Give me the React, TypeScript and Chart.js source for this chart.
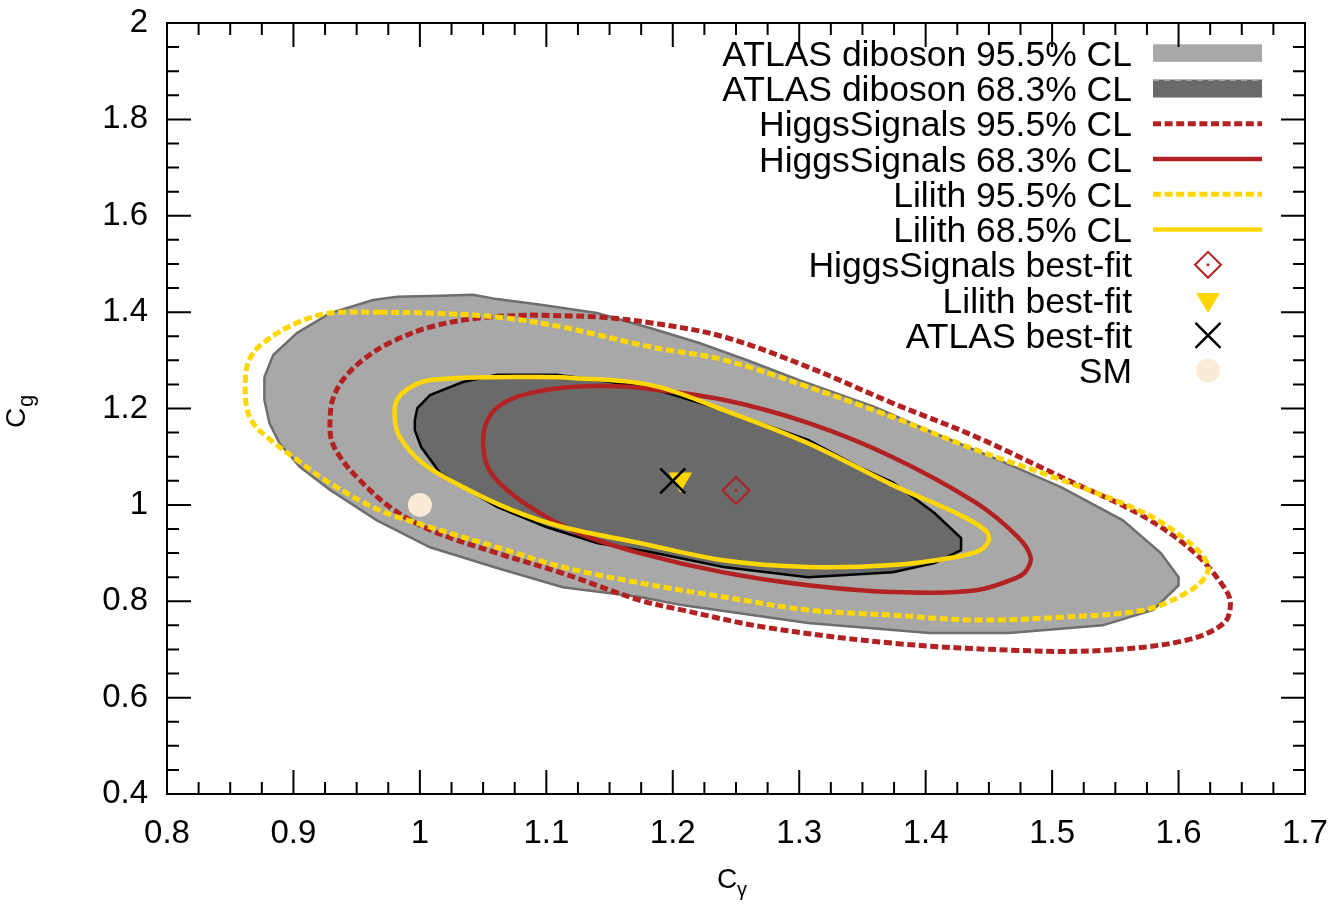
import React, { useEffect, useRef } from "react";
import { Chart, registerables } from "chart.js";

Chart.register(...registerables);

const FONT = '"Liberation Sans", Arial, Helvetica, sans-serif';

// Axis tick values
const xTicks = [0.8, 0.9, 1.0, 1.1, 1.2, 1.3, 1.4, 1.5, 1.6, 1.7];
const yTicks = [0.4, 0.6, 0.8, 1.0, 1.2, 1.4, 1.6, 1.8, 2.0];

// Contours as [C_gamma, C_g] pairs
const atlas95: [number, number][] = [
  [0.877, 1.265], [0.884, 1.311], [0.903, 1.357], [0.929, 1.398], [0.963, 1.425],
  [0.982, 1.432], [1.016, 1.434], [1.042, 1.436], [1.061, 1.427], [1.097, 1.415],
  [1.140, 1.398], [1.182, 1.367], [1.221, 1.336], [1.260, 1.299], [1.300, 1.259],
  [1.360, 1.203], [1.407, 1.149], [1.458, 1.093], [1.507, 1.037], [1.556, 0.968],
  [1.586, 0.900], [1.600, 0.850], [1.600, 0.833], [1.580, 0.782], [1.540, 0.750],
  [1.466, 0.734], [1.403, 0.734], [1.307, 0.755], [1.207, 0.792], [1.174, 0.809],
  [1.113, 0.829], [1.061, 0.869], [1.008, 0.912], [0.966, 0.968], [0.929, 1.031],
  [0.905, 1.079], [0.889, 1.128], [0.881, 1.170], [0.877, 1.218],
];

const atlas68: [number, number][] = [
  [0.996, 1.176], [0.998, 1.201], [1.008, 1.228], [1.034, 1.255], [1.061, 1.270],
  [1.108, 1.270], [1.140, 1.259], [1.182, 1.243], [1.240, 1.197], [1.307, 1.135],
  [1.347, 1.079], [1.374, 1.047], [1.407, 0.983], [1.428, 0.931], [1.428, 0.906],
  [1.407, 0.879], [1.374, 0.860], [1.307, 0.850], [1.240, 0.871], [1.182, 0.902],
  [1.140, 0.921], [1.100, 0.954], [1.061, 0.996], [1.034, 1.037], [1.016, 1.066],
  [1.001, 1.120], [0.996, 1.155],
];

const hs95: [number, number][] = [
  [1.087, 1.394], [1.140, 1.390], [1.182, 1.378],
  [1.240, 1.349], [1.307, 1.286], [1.374, 1.211], [1.440, 1.141], [1.507, 1.058],
  [1.573, 0.975], [1.613, 0.900], [1.636, 0.829], [1.641, 0.796], [1.636, 0.755],
  [1.606, 0.719], [1.540, 0.698], [1.473, 0.698], [1.374, 0.713], [1.273, 0.746],
  [1.207, 0.782], [1.174, 0.802], [1.113, 0.858], [1.061, 0.900], [1.008, 0.948],
  [0.976, 0.996], [0.950, 1.058], [0.937, 1.099], [0.930, 1.135],
  [0.929, 1.176], [0.931, 1.218], [0.939, 1.259], [0.955, 1.301], [0.976, 1.336],
  [1.008, 1.369], [1.047, 1.388],
];

const hs68: [number, number][] = [
  [1.142, 1.247], [1.174, 1.243], [1.240, 1.218], [1.307, 1.170],
  [1.374, 1.099], [1.440, 1.004], [1.473, 0.933], [1.483, 0.892], [1.480, 0.865],
  [1.473, 0.850], [1.440, 0.823], [1.374, 0.819], [1.307, 0.833], [1.240, 0.860],
  [1.174, 0.900], [1.126, 0.941], [1.087, 0.996], [1.063, 1.045], [1.053, 1.083],
  [1.050, 1.128], [1.052, 1.166], [1.059, 1.197], [1.071, 1.218], [1.087, 1.232],
  [1.113, 1.243],
];

const lilith95: [number, number][] = [
  [0.968, 1.400], [1.008, 1.398], [1.061, 1.390], [1.113, 1.369], [1.182, 1.328],
  [1.240, 1.301], [1.307, 1.245], [1.374, 1.182], [1.440, 1.114], [1.507, 1.052],
  [1.573, 0.983], [1.606, 0.927], [1.623, 0.879], [1.621, 0.850], [1.606, 0.817],
  [1.573, 0.782], [1.507, 0.767], [1.440, 0.761], [1.374, 0.771], [1.307, 0.782],
  [1.240, 0.809], [1.174, 0.838], [1.113, 0.871], [1.061, 0.912], [1.008, 0.954],
  [0.968, 0.989], [0.929, 1.045], [0.903, 1.093], [0.879, 1.141], [0.868, 1.170],
  [0.863, 1.203], [0.862, 1.259], [0.865, 1.301], [0.876, 1.336], [0.903, 1.378],
  [0.929, 1.398],
];

const lilith68: [number, number][] = [
  [1.113, 1.265], [1.182, 1.249], [1.240, 1.197], [1.307, 1.128], [1.374, 1.041],
  [1.424, 0.983], [1.447, 0.948], [1.450, 0.927], [1.443, 0.906], [1.424, 0.892],
  [1.374, 0.875], [1.307, 0.871], [1.240, 0.885], [1.174, 0.921], [1.113, 0.954],
  [1.073, 0.989], [1.034, 1.037], [1.002, 1.087], [0.984, 1.141],
  [0.980, 1.182], [0.982, 1.218], [0.992, 1.243], [1.008, 1.259], [1.055, 1.265],
];

// Best-fit points and the Standard Model point
const hsBestFit: [number, number] = [1.25, 1.03];
const lilithBestFit: [number, number] = [1.206, 1.053];
const atlasBestFit: [number, number] = [1.2, 1.05];
const smPoint: [number, number] = [1.0, 1.0];

const legendLabels = [
  "ATLAS diboson 95.5% CL",
  "ATLAS diboson 68.3% CL",
  "HiggsSignals 95.5% CL",
  "HiggsSignals 68.3% CL",
  "Lilith 95.5% CL",
  "Lilith 68.5% CL",
  "HiggsSignals best-fit",
  "Lilith best-fit",
  "ATLAS best-fit",
  "SM",
];

const RED = "#b22222";
const GOLD = "#ffd700";
const LIGHT_GREY = "#a8a8a8";
const DARK_GREY = "#6a6a6a";
const SM_COLOR = "#faebd7";
const DOT_DASH = [8, 3.6];

const closed = (pts: [number, number][]) =>
  [...pts, pts[0]].map(([x, y]) => ({ x, y }));

const fmt = (v: number) => String(Number(v.toFixed(2)));

// Frame, inward ticks, key and axis titles
const decorPlugin = {
  id: "decor",
  afterDraw(chart: any) {
    const { ctx, chartArea: a, scales } = chart;
    const xs = scales.x;
    const ys = scales.y;
    ctx.save();

    // key
    const rowY = (i: number) => 53.3 + 35.25 * i;
    const sx0 = 1153;
    const sx1 = 1262;
    const mx = 1208;
    ctx.font = `35.5px ${FONT}`;
    ctx.fillStyle = "#000";
    ctx.textAlign = "right";
    ctx.textBaseline = "alphabetic";
    legendLabels.forEach((t, i) => ctx.fillText(t, 1132, rowY(i) + 12.5));

    ctx.fillStyle = LIGHT_GREY;
    ctx.fillRect(sx0, rowY(0) - 9, sx1 - sx0, 17.5);
    ctx.fillStyle = DARK_GREY;
    ctx.fillRect(sx0, rowY(1) - 9, sx1 - sx0, 18);
    ctx.strokeStyle = "#b4b4b4";
    ctx.lineWidth = 1.5;
    ctx.setLineDash([6, 5]);
    ctx.beginPath();
    ctx.moveTo(sx0, rowY(1) - 8.5);
    ctx.lineTo(sx1, rowY(1) - 8.5);
    ctx.stroke();

    const sample = (i: number, color: string, dashed: boolean) => {
      ctx.strokeStyle = color;
      ctx.lineWidth = dashed ? 5 : 4.5;
      ctx.setLineDash(dashed ? DOT_DASH : []);
      ctx.beginPath();
      ctx.moveTo(sx0, rowY(i));
      ctx.lineTo(sx1, rowY(i));
      ctx.stroke();
    };
    sample(2, RED, true);
    sample(3, RED, false);
    sample(4, GOLD, true);
    sample(5, GOLD, false);
    ctx.setLineDash([]);

    // diamond
    let cy = rowY(6);
    ctx.strokeStyle = RED;
    ctx.lineWidth = 2;
    ctx.beginPath();
    ctx.moveTo(mx - 13, cy);
    ctx.lineTo(mx, cy - 13);
    ctx.lineTo(mx + 13, cy);
    ctx.lineTo(mx, cy + 13);
    ctx.closePath();
    ctx.stroke();
    ctx.fillStyle = RED;
    ctx.beginPath();
    ctx.arc(mx, cy, 1.5, 0, Math.PI * 2);
    ctx.fill();

    // down triangle
    cy = rowY(7);
    ctx.fillStyle = GOLD;
    ctx.beginPath();
    ctx.moveTo(mx - 12, cy - 7);
    ctx.lineTo(mx + 12, cy - 7);
    ctx.lineTo(mx, cy + 13);
    ctx.closePath();
    ctx.fill();

    // cross
    cy = rowY(8);
    ctx.strokeStyle = "#000";
    ctx.lineWidth = 2.5;
    ctx.beginPath();
    ctx.moveTo(mx - 12.5, cy - 12.5);
    ctx.lineTo(mx + 12.5, cy + 12.5);
    ctx.moveTo(mx + 12.5, cy - 12.5);
    ctx.lineTo(mx - 12.5, cy + 12.5);
    ctx.stroke();

    // circle
    cy = rowY(9);
    ctx.fillStyle = SM_COLOR;
    ctx.beginPath();
    ctx.arc(mx, cy, 12, 0, Math.PI * 2);
    ctx.fill();

    // inward ticks on all four sides
    ctx.strokeStyle = "#000";
    ctx.lineWidth = 2;
    ctx.beginPath();
    const MAJ = 24;
    const MIN = 12;
    const xTick = (v: number, len: number) => {
      const p = xs.getPixelForValue(v);
      ctx.moveTo(p, a.bottom);
      ctx.lineTo(p, a.bottom - len);
      ctx.moveTo(p, a.top);
      ctx.lineTo(p, a.top + len);
    };
    const yTick = (v: number, len: number) => {
      const p = ys.getPixelForValue(v);
      ctx.moveTo(a.left, p);
      ctx.lineTo(a.left + len, p);
      ctx.moveTo(a.right, p);
      ctx.lineTo(a.right - len, p);
    };
    xTicks.forEach((v, i) => {
      xTick(v, MAJ);
      if (i < xTicks.length - 1) {
        const step = (xTicks[i + 1] - v) / 4;
        for (let k = 1; k < 4; k++) xTick(v + k * step, MIN);
      }
    });
    yTicks.forEach((v, i) => {
      yTick(v, MAJ);
      if (i < yTicks.length - 1) {
        const step = (yTicks[i + 1] - v) / 4;
        for (let k = 1; k < 4; k++) yTick(v + k * step, MIN);
      }
    });
    ctx.stroke();
    ctx.strokeRect(a.left, a.top, a.right - a.left, a.bottom - a.top);

    // axis titles
    ctx.fillStyle = "#000";
    ctx.textAlign = "left";
    ctx.textBaseline = "alphabetic";
    ctx.font = `28px ${FONT}`;
    ctx.fillText("C", 717, 888);
    ctx.font = `20px ${FONT}`;
    ctx.fillText("\u03b3", 737, 896);

    ctx.translate(25, 428);
    ctx.rotate(-Math.PI / 2);
    ctx.font = `28px ${FONT}`;
    ctx.fillText("C", 0, 0);
    ctx.font = `22px ${FONT}`;
    ctx.fillText("g", 21, 8);

    ctx.restore();
  },
};

const noPad = (s: any) => {
  s.paddingLeft = 0;
  s.paddingRight = 0;
  s.paddingTop = 0;
  s.paddingBottom = 0;
};

export default function App() {
  const canvasRef = useRef<HTMLCanvasElement | null>(null);

  useEffect(() => {
    document.body.style.margin = "0";
    const canvas = canvasRef.current;
    if (!canvas) return;

    const contour = (
      label: string,
      pts: [number, number][],
      color: string,
      width: number,
      dash: number[],
      order: number,
      fillColor?: string
    ) => ({
      label,
      data: closed(pts),
      showLine: true,
      borderColor: color,
      borderWidth: width,
      borderDash: dash,
      backgroundColor: fillColor || "transparent",
      fill: fillColor ? "shape" : false,
      tension: fillColor ? 0 : 0.35,
      pointRadius: 0,
      pointHoverRadius: 0,
      order,
    });

    const marker = (
      label: string,
      p: [number, number],
      style: string,
      radius: number,
      opts: any,
      order: number
    ) => ({
      label,
      data: [{ x: p[0], y: p[1] }],
      showLine: false,
      pointStyle: style,
      pointRadius: radius,
      pointHoverRadius: radius,
      order,
      ...opts,
    });

    const chart = new Chart(canvas, {
      type: "scatter",
      data: {
        datasets: [
          marker("ATLAS best-fit", atlasBestFit, "crossRot", 17.7,
            { borderColor: "#000", borderWidth: 2.5, backgroundColor: "transparent" }, 0),
          marker("Lilith best-fit", lilithBestFit, "triangle", 13.5,
            { backgroundColor: GOLD, borderWidth: 0, rotation: 180 }, 1),
          marker("HiggsSignals best-fit", hsBestFit, "circle", 1.5,
            { backgroundColor: RED, borderWidth: 0 }, 2),
          marker("HiggsSignals best-fit", hsBestFit, "rectRot", 13.5,
            { borderColor: RED, borderWidth: 2, backgroundColor: "transparent" }, 2),
          marker("SM", smPoint, "circle", 12,
            { backgroundColor: SM_COLOR, borderWidth: 0 }, 3),
          contour("Lilith 68.5% CL", lilith68, GOLD, 4.5, [], 4),
          contour("Lilith 95.5% CL", lilith95, GOLD, 5, DOT_DASH, 5),
          contour("HiggsSignals 68.3% CL", hs68, RED, 4.5, [], 6),
          contour("HiggsSignals 95.5% CL", hs95, RED, 5, DOT_DASH, 7),
          contour("ATLAS diboson 68.3% CL", atlas68, "#000", 2.5, [], 8, DARK_GREY),
          contour("ATLAS diboson 95.5% CL", atlas95, "#6e6e6e", 2.5, [], 9, LIGHT_GREY),
        ],
      },
      options: {
        animation: false,
        responsive: false,
        maintainAspectRatio: false,
        devicePixelRatio: 1,
        layout: { padding: { top: 23, right: 36, left: 0, bottom: 0 } },
        plugins: {
          legend: { display: false },
          tooltip: { enabled: false },
        },
        events: [],
        scales: {
          x: {
            type: "linear",
            min: 0.8,
            max: 1.7,
            afterBuildTicks: (s: any) => {
              s.ticks = xTicks.map((v) => ({ value: v }));
            },
            afterFit: (s: any) => {
              s.height = 114;
              noPad(s);
            },
            grid: { display: false, drawTicks: false },
            border: { display: false },
            ticks: {
              color: "#000",
              font: { family: FONT, size: 33 },
              padding: 20,
              maxRotation: 0,
              autoSkip: false,
              callback: (v: any) => fmt(Number(v)),
            },
          },
          y: {
            type: "linear",
            min: 0.4,
            max: 2.0,
            afterBuildTicks: (s: any) => {
              s.ticks = yTicks.map((v) => ({ value: v }));
            },
            afterFit: (s: any) => {
              s.width = 167;
              noPad(s);
            },
            grid: { display: false, drawTicks: false },
            border: { display: false },
            ticks: {
              color: "#000",
              font: { family: FONT, size: 33 },
              padding: 19,
              autoSkip: false,
              callback: (v: any) => fmt(Number(v)),
            },
          },
        },
      } as any,
      plugins: [decorPlugin],
    });

    return () => chart.destroy();
  }, []);

  return (
    <div style={{ position: "absolute", left: 0, top: 0, width: 1341, height: 908, background: "#fff" }}>
      <canvas ref={canvasRef} width={1341} height={908} style={{ width: 1341, height: 908 }} />
    </div>
  );
}
